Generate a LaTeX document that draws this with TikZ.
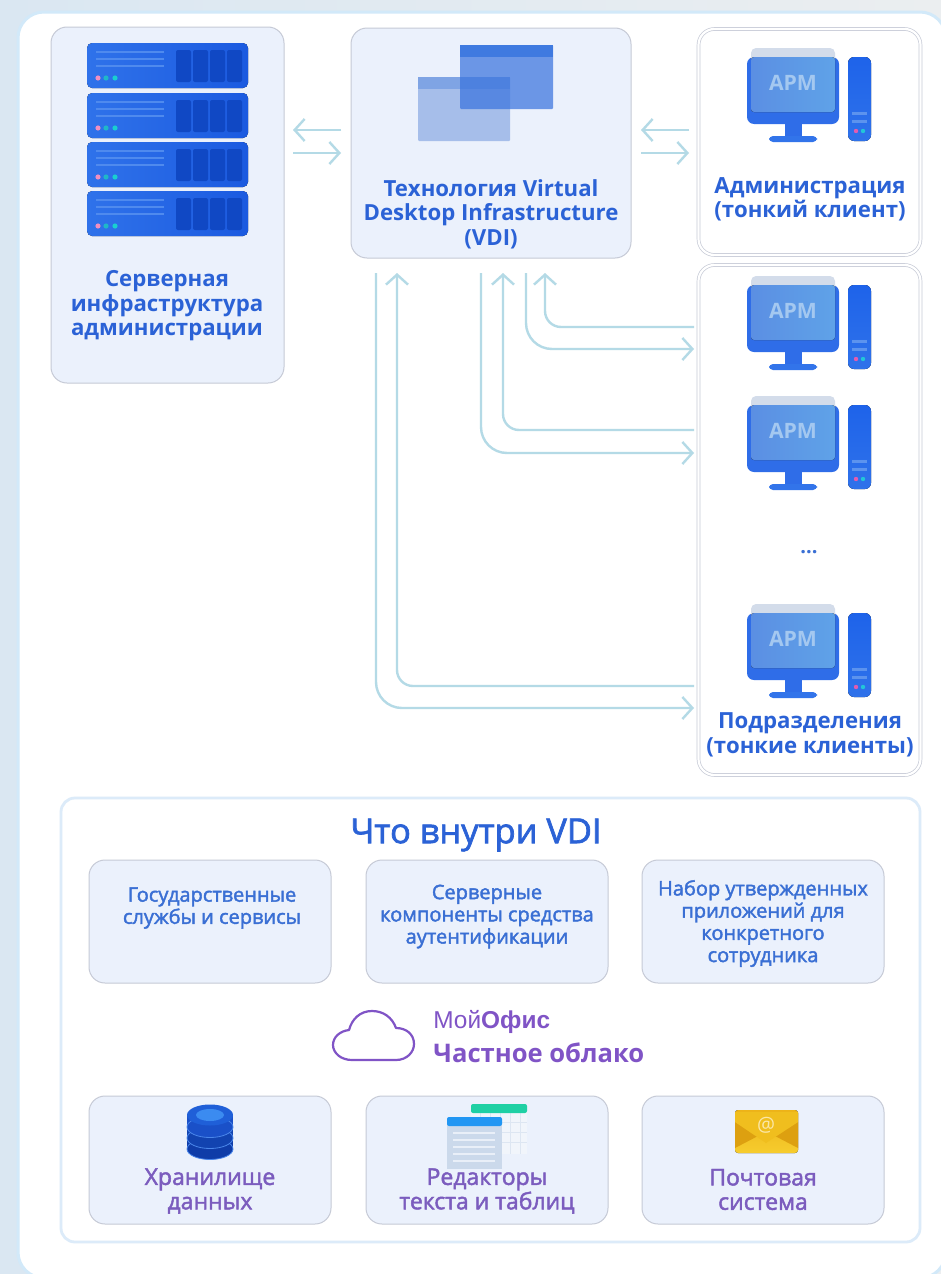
\documentclass[tikz,border=0pt]{standalone}
\usepackage{fontspec}
\setmainfont{Open Sans}
\newfontfamily\semifont[FakeBold=2]{Open Sans}
\newfontfamily\libfont{Liberation Sans}
\usetikzlibrary{arrows.meta,calc}
\definecolor{bluetxt}{HTML}{2B62D6}
\definecolor{lblue}{HTML}{3A6FD4}
\definecolor{purp}{HTML}{7B5CBE}
\definecolor{purpb}{HTML}{8054C6}
\definecolor{boxfill}{HTML}{EBF1FC}
\definecolor{boxedge}{HTML}{C6CAD6}
\definecolor{conncol}{HTML}{B4DAE6}
\newcommand\hx[1]{\definecolor{#1}{HTML}{#1}}
\hx{2F72EA}\hx{1B5AE0}\hx{4F8AEE}\hx{1048C4}\hx{F08FC0}\hx{1FB7C8}\hx{19CFD0}
\hx{2F6DE8}\hx{3274EA}\hx{D3DCEA}\hx{5B8FE3}\hx{5FA2E8}\hx{A4C8F0}\hx{1E63EA}
\hx{5C93EE}\hx{E25CB0}\hx{22C6D8}\hx{DAE7F2}\hx{EBEEF0}\hx{D2E9F9}\hx{A6BEEA}
\hx{7FA4E4}\hx{3A74DE}\hx{3F7AE0}\hx{DCEBF9}\hx{1243B0}\hx{1A50C8}\hx{1D58D0}
\hx{1F5FD8}\hx{3B8BF0}\hx{F1F5FB}\hx{DDE6F2}\hx{1FD0A4}\hx{CBD9EB}\hx{2196F3}
\hx{E9EFF8}\hx{EDB318}\hx{F6CC2E}\hx{DDA010}\hx{F0BE1E}\hx{FBE7A8}\hx{0F3CA8}\hx{4A86EA}
\tikzset{
  x=0.5pt,y=-0.5pt,
  sz/.style 2 args={minimum width=#1*0.5pt,minimum height=#2*0.5pt,inner sep=0pt,outer sep=0pt},
  card/.style={fill=boxfill,draw=boxedge,line width=.5pt,rounded corners=8pt},
  whitecard/.style={fill=white,draw=boxedge,line width=.35pt,double=white,double distance=1.1pt,rounded corners=8pt},
  head/.style={text=bluetxt,align=center,font=\bfseries\fontsize{11.1}{12.2}\selectfont,inner sep=0pt},
  sub/.style={text=lblue,align=center,font=\semifont\fontsize{10}{11.1}\selectfont,inner sep=0pt},
  pur/.style={text=purp,align=center,font=\semifont\fontsize{11.5}{12.2}\selectfont,inner sep=0pt},
  conn/.style={draw=conncol,line width=1.2pt,-{Straight Barb[length=5pt,width=11pt,line width=1.2pt]}},
}
\newcommand\serverunit[1]{%
  \begin{scope}[shift={(0,#1)}]
    \fill[left color=2F72EA,right color=1B5AE0,rounded corners=2.5pt] (87,43) rectangle (248,88);
    \foreach \yy in {52,59,66}{\fill[4F8AEE] (96,\yy-1) rectangle (164,\yy+1);}
    \foreach \xa in {176,193,210,227}{\fill[1048C4,rounded corners=1pt] (\xa,50) rectangle (\xa+15,82);}
    \fill[F08FC0] (98,78) circle (2.6);
    \fill[1FB7C8] (106,78) circle (2.6);
    \fill[19CFD0] (115,78) circle (2.6);
  \end{scope}}
\newcommand\armunit[1]{%
  \begin{scope}[shift={(0,#1)}]
    \fill[2F6DE8] (785,120) rectangle (802,138);
    \fill[3274EA,rounded corners=2pt] (769,136) rectangle (817,142);
    \fill[2F6DE8,rounded corners=3.5pt] (747,57) rectangle (839,124);
    \fill[D3DCEA,rounded corners=2.5pt] (751,48) rectangle (835,64);
    \fill[left color=5B8FE3,right color=5FA2E8,rounded corners=1.5pt] (751,57) rectangle (835,112);
    \node[text=A4C8F0,font=\bfseries\fontsize{10.6}{12}\selectfont,inner sep=0pt] (arm#1) at (793,83) {АРМ};
    \fill[top color=1E63EA,bottom color=2F72EA,rounded corners=3pt] (848,57) rectangle (871,141);
    \fill[5C93EE] (852,112) rectangle (867,115);
    \fill[5C93EE] (852,120) rectangle (867,123);
    \fill[E25CB0] (856,131) circle (2.2);
    \fill[22C6D8] (863,131) circle (2.2);
  \end{scope}}
\begin{document}
\begin{tikzpicture}
\useasboundingbox (0,0) rectangle (941,1274);
\begin{scope}
\clip (0,0) rectangle (941,1274);
\fill[left color=DAE7F2,right color=EBEEF0] (0,0) rectangle (941,1274);
\filldraw[fill=white,draw=D2E9F9,line width=1.5pt,rounded corners=13pt] (18,12) rectangle (946,1278);
\end{scope}

% upper cards
\node[card,sz={233}{356}] (srv) at (167.5,205) {};
\node[card,sz={280}{230}] (vdi) at (491,143) {};
\node[whitecard,sz={222}{226}] (adm) at (809.5,142) {};
\node[whitecard,sz={222}{510}] (pod) at (809.5,520) {};

\serverunit{0}
\serverunit{50}
\serverunit{99}
\serverunit{148}
\node[head] (srvt) at (167,306) {Серверная\\инфраструктура\\администрации};

% windows
\fill[A6BEEA,rounded corners=.5pt] (418,77) rectangle (510,141);
\fill[7FA4E4] (418,77) rectangle (510,89);
\fill[3A74DE,opacity=.72,rounded corners=.5pt] (460,45) rectangle (553,109);
\fill[3F7AE0] (460,45) rectangle (553,57);
\node[head] (vdit) at (491,214) {Технология Virtual\\Desktop Infrastructure\\(VDI)};

\armunit{0}
\node[head] (admt) at (810,199.5) {Администрация\\(тонкий клиент)};
\armunit{228}
\armunit{348}
\armunit{556}
\node[text=lblue,font=\bfseries\fontsize{10}{11}\selectfont,inner sep=0pt] (dots) at (809,552) {...};
\node[head] (podt) at (810,735) {Подразделения\\(тонкие клиенты)};

% connectors
\coordinate (p1a) at (341,130); \coordinate (p1b) at (293,130);
\coordinate (p2a) at (293,153); \coordinate (p2b) at (341,153);
\coordinate (p3a) at (689,130); \coordinate (p3b) at (641,130);
\coordinate (p4a) at (641,153); \coordinate (p4b) at (689,153);
\draw[conn] (p1a) -- (p1b);
\draw[conn] (p2a) -- (p2b);
\draw[conn] (p3a) -- (p3b);
\draw[conn] (p4a) -- (p4b);
\coordinate (aS) at (376,273); \coordinate (aE) at (694,708);
\coordinate (bS) at (694,686); \coordinate (bE) at (397,273);
\coordinate (cS) at (481,273); \coordinate (cE) at (694,453);
\coordinate (dS) at (694,430); \coordinate (dE) at (503,273);
\coordinate (eS) at (526,273); \coordinate (eE) at (694,349);
\coordinate (fS) at (694,327); \coordinate (fE) at (545,273);
\draw[conn,rounded corners=13pt] (aS) |- (aE);
\draw[conn,rounded corners=8pt] (bS) -| (bE);
\draw[conn,rounded corners=13pt] (cS) |- (cE);
\draw[conn,rounded corners=8pt] (dS) -| (dE);
\draw[conn,rounded corners=13pt] (eS) |- (eE);
\draw[conn,rounded corners=8pt] (fS) -| (fE);

% inner panel
\node[fill=white,draw=DCEBF9,line width=1.4pt,rounded corners=7pt,sz={859}{444}] (inner) at (490.5,1020) {};
\node[text=bluetxt,font=\semifont\fontsize{17.2}{19}\selectfont,inner sep=0pt] (ttl) at (476,835) {Что внутри VDI};

\node[card,sz={242}{123}] (r1a) at (210,921.5) {};
\node[card,sz={242}{123}] (r1b) at (487,921.5) {};
\node[card,sz={242}{123}] (r1c) at (763,921.5) {};
\node[sub] (r1at) at (212,908) {Государственные\\службы и сервисы};
\node[sub] (r1bt) at (487,916.5) {Серверные\\компоненты средства\\аутентификации};
\node[sub] (r1ct) at (763,923.5) {Набор утвержденных\\приложений для\\конкретного\\сотрудника};

% cloud + brand
\draw[purpb,line width=1.1pt,line join=round] (352,1060) -- (396,1060)
  .. controls (407,1060) and (414,1052) .. (414,1044)
  .. controls (414,1034) and (406,1028) .. (396,1028)
  .. controls (392,1017) and (383,1011) .. (372,1011)
  .. controls (360,1011) and (352,1019) .. (349,1030)
  .. controls (340,1031) and (333,1037) .. (333,1045)
  .. controls (333,1053) and (341,1060) .. (352,1060) -- cycle;
\node[anchor=west,text=purpb,font=\libfont\fontsize{12.2}{14}\selectfont,inner sep=0pt] (brand) at (433,1022) {Мой{\bfseries Офис}};
\node[anchor=west,text=purpb,font=\bfseries\fontsize{12.8}{14}\selectfont,inner sep=0pt] (priv) at (433,1053) {Частное облако};

\node[card,sz={242}{128}] (r2a) at (210,1160) {};
\node[card,sz={242}{128}] (r2b) at (487,1160) {};
\node[card,sz={242}{128}] (r2c) at (763,1160) {};
\node[pur] (r2at) at (210,1191) {Хранилище\\данных};
\node[pur] (r2bt) at (487,1191) {Редакторы\\текста и таблиц};
\node[pur] (r2ct) at (763,1189.5) {Почтовая\\система};

% database
\foreach \yy/\cc in {1149/0F3CA8,1138/1243B0,1127/1A50C8}{
  \fill[\cc] (187,\yy-12) rectangle (233,\yy);
  \filldraw[fill=\cc,draw=4A86EA,line width=.4pt] (210,\yy) ellipse[x radius=23,y radius=10.5];
}
\fill[1F5FD8] (210,1115) ellipse[x radius=23,y radius=10.5];
\fill[3B8BF0] (210,1115) ellipse[x radius=14,y radius=6];

% editors
\fill[F1F5FB] (471,1110) rectangle (527,1154);
\foreach \xa in {480,490,500,510,520}{\draw[DDE6F2,line width=.4pt] (\xa,1112) -- (\xa,1154);}
\foreach \yy in {1122,1132,1142}{\draw[DDE6F2,line width=.4pt] (471,\yy) -- (527,\yy);}
\fill[1FD0A4,rounded corners=1pt] (471,1104) rectangle (527,1113);
\fill[CBD9EB] (447,1122) rectangle (502,1169);
\fill[2196F3,rounded corners=1pt] (447,1117) rectangle (502,1126);
\foreach \yy in {1132,1139,1146,1153,1160}{\fill[E9EFF8] (453,\yy) rectangle (495,\yy+1.5);}

% envelope
\fill[top color=EDB318,bottom color=F6CC2E,rounded corners=1.5pt] (735,1110) rectangle (798,1153);
\fill[DDA010] (735,1122) -- (758,1136) -- (735,1148) -- cycle;
\fill[DDA010] (798,1122) -- (775,1136) -- (798,1148) -- cycle;
\fill[F0BE1E] (735,1112) -- (735,1122) -- (766,1143) -- (798,1122) -- (798,1112) -- cycle;
\node[text=FBE7A8,font=\fontsize{10}{11}\selectfont,inner sep=0pt] (atsign) at (766,1125) {@};
\end{tikzpicture}
\end{document}
